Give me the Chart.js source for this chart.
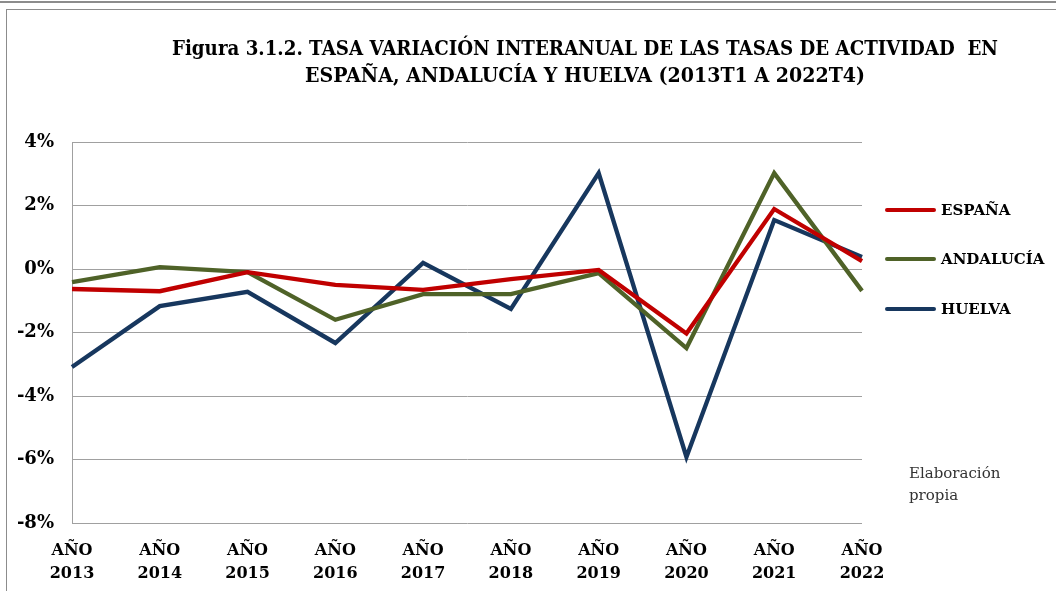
<!DOCTYPE html>
<html>
<head>
<meta charset="utf-8">
<script src="https://cdn.jsdelivr.net/npm/chart.js@4"></script>
<style>
html,body{margin:0;padding:0;background:#fff;}
#wrap{position:relative;width:1056px;height:591px;overflow:hidden;}
#topline{position:absolute;left:0;top:1px;width:1056px;height:0;border-top:2px solid #8c8c8c;}
#box{position:absolute;left:6px;top:9px;width:1060px;height:600px;border-left:1px solid #8c8c8c;border-top:1px solid #8c8c8c;}
canvas{position:absolute;left:0;top:0;}
</style>
</head>
<body>
<div id="wrap">
<div id="topline"></div>
<div id="box"></div>
<canvas id="c" width="1056" height="591"></canvas>
</div>
<script>
const categories = ['2013','2014','2015','2016','2017','2018','2019','2020','2021','2022'];
const espana    = [-0.63,-0.70,-0.10,-0.50,-0.66,-0.32,-0.03,-2.03, 1.89, 0.25];
const andalucia = [-0.41, 0.06,-0.10,-1.60,-0.79,-0.79,-0.13,-2.49, 3.02,-0.69];
const huelva    = [-3.09,-1.17,-0.72,-2.33, 0.19,-1.26, 3.02,-5.92, 1.54, 0.38];
const seriesNames = ['ESPAÑA','ANDALUCÍA','HUELVA'];
const yTicks = [-8,-6,-4,-2,0,2,4];
const titleLines = ['Figura 3.1.2. TASA VARIACIÓN INTERANUAL DE LAS TASAS DE ACTIVIDAD  EN','ESPAÑA, ANDALUCÍA Y HUELVA (2013T1 A 2022T4)'];
const noteLines = ['Elaboración','propia'];

const colors = ['#c00000','#4f6228','#17375e'];
const serif = '"DejaVu Serif", "Liberation Serif", serif';

const extras = {
  id:'extras',
  afterDraw(chart){
    const ctx = chart.ctx;
    ctx.save();
    // title
    ctx.fillStyle = '#000';
    ctx.font = 'bold 21px ' + serif;
    ctx.textAlign = 'center';
    ctx.textBaseline = 'alphabetic';
    ctx.fillText(titleLines[0], 585, 55, 826);
    ctx.fillText(titleLines[1], 585, 82, 560);
    // legend
    const ys = [210,259,309];
    chart.data.datasets.forEach((ds,i)=>{
      ctx.strokeStyle = ds.borderColor;
      ctx.lineWidth = 4;
      ctx.lineCap = 'round';
      ctx.beginPath();
      ctx.moveTo(887, ys[i]);
      ctx.lineTo(934, ys[i]);
      ctx.stroke();
      ctx.fillStyle = '#000';
      ctx.font = 'bold 15px ' + serif;
      ctx.textAlign = 'left';
      ctx.textBaseline = 'middle';
      ctx.fillText(ds.label, 941, ys[i]+1);
    });
    // note
    ctx.fillStyle = '#333';
    ctx.font = '15px ' + serif;
    ctx.fillText(noteLines[0], 909, 474);
    ctx.fillText(noteLines[1], 909, 496);
    ctx.restore();
  }
};

new Chart(document.getElementById('c'), {
  type:'line',
  data:{
    labels: categories.map(c=>['AÑO', c]),
    datasets:[
      {label:seriesNames[0], data:espana, borderColor:colors[0]},
      {label:seriesNames[1], data:andalucia, borderColor:colors[1]},
      {label:seriesNames[2], data:huelva, borderColor:colors[2]}
    ].map(d=>Object.assign(d,{borderWidth:4.3,pointRadius:0,tension:0,fill:false,borderJoinStyle:'miter',clip:false}))
  },
  options:{
    responsive:false,
    animation:false,
    events:[],
    layout:{padding:{top:142,right:194,left:0,bottom:0}},
    plugins:{legend:{display:false},title:{display:false},tooltip:{enabled:false}},
    scales:{
      x:{
        offset:false,
        grid:{display:false},
        border:{display:false},
        ticks:{color:'#000',font:{family:serif,weight:'bold',size:16,lineHeight:1.44},padding:8,maxRotation:0,autoSkip:false},
        afterFit(a){a.height=68;}
      },
      y:{
        min:-8,max:4,
        afterBuildTicks(a){a.ticks = yTicks.map(v=>({value:v}));},
        grid:{color:'#a0a0a0',lineWidth:1,drawTicks:false},
        border:{display:true,color:'#a0a0a0',width:1},
        ticks:{color:'#000',font:{family:serif,weight:'bold',size:18},padding:18,callback:v=>v+'%'},
        afterFit(a){a.width=72;}
      }
    }
  },
  plugins:[extras]
});
</script>
</body>
</html>
